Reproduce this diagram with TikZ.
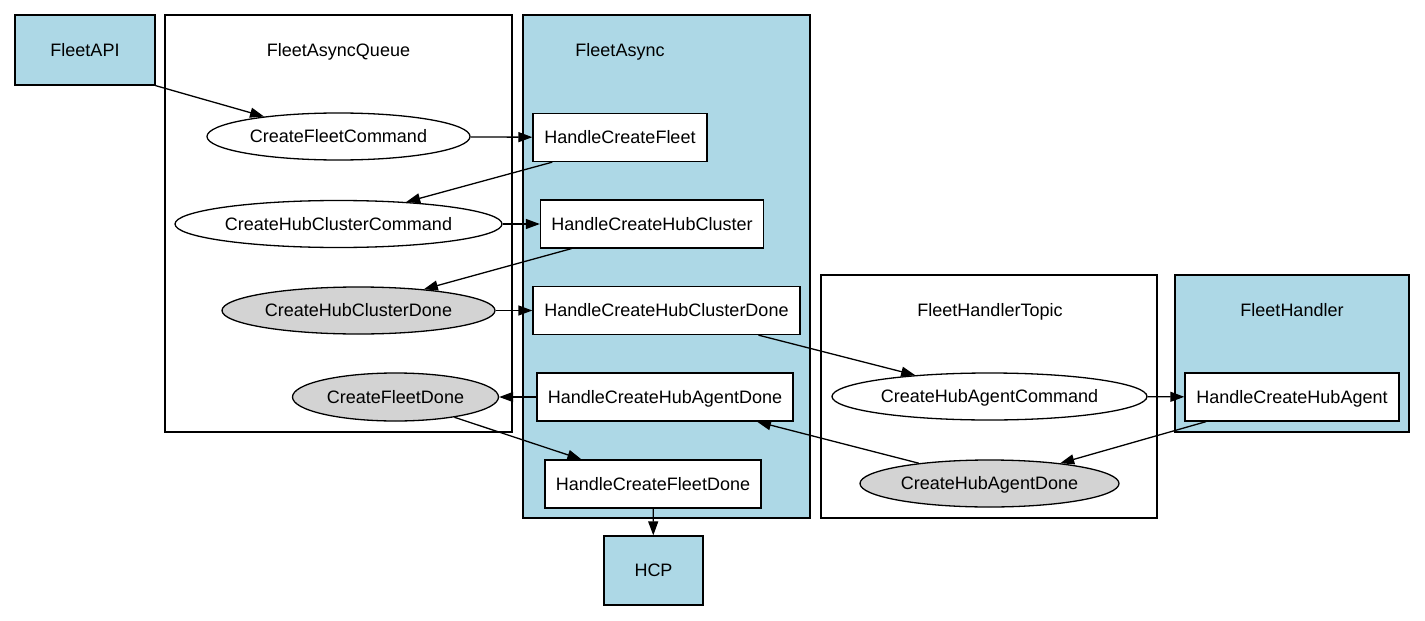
\documentclass[tikz,border=0pt]{standalone}
\usepackage{fontspec}
\setmainfont{Liberation Sans}
\usetikzlibrary{arrows.meta,shapes.geometric}
\definecolor{lblue}{HTML}{ADD8E6}
\definecolor{lgray}{HTML}{D3D3D3}
\begin{document}
\begin{tikzpicture}[x=1pt,y=-1pt,line width=1.3pt,
  font=\fontsize{18}{21.6}\selectfont,
  base/.style={draw,text height=12.9pt,text depth=0pt,inner sep=0pt},
  box/.style={base,rectangle,fill=white,minimum height=48},
  ell/.style={base,ellipse,fill=white,minimum height=47},
  done/.style={ell,fill=lgray},
  ext/.style={base,rectangle,fill=lblue},
  cluster/.style={draw,rectangle,inner sep=0pt},
  clab/.style={inner sep=0pt,text height=12.9pt,text depth=0pt},
  arr/.style={-{Triangle[length=14pt,width=10pt]}}]
\useasboundingbox (0,0) rectangle (1425,621);
\fill[white] (0,0) rectangle (1425,621);
% clusters
\node[cluster,minimum width=347,minimum height=417] (queue) at (338.5,223.5) {};
\node[clab] (queuelab) at (338.5,50) {FleetAsyncQueue};
\node[cluster,fill=lblue,minimum width=287,minimum height=503] (async) at (666.5,266.5) {};
\node[clab] (asynclab) at (620,50) {FleetAsync};
\node[cluster,minimum width=336,minimum height=243] (topic) at (989,396.5) {};
\node[clab] (topiclab) at (990,310) {FleetHandlerTopic};
\node[cluster,fill=lblue,minimum width=234,minimum height=157] (handler) at (1292,353.5) {};
\node[clab] (handlerlab) at (1292,310) {FleetHandler};
% nodes
\node[ext,minimum width=140,minimum height=70] (api) at (85,50) {FleetAPI};
\node[ext,minimum width=99,minimum height=69] (hcp) at (653.5,570.5) {HCP};
\node[ell,minimum width=263] (cfc) at (338.5,136.5) {CreateFleetCommand};
\node[ell,minimum width=327] (chcc) at (338.5,224) {CreateHubClusterCommand};
\node[done,minimum width=273] (chcd) at (358.5,310.5) {CreateHubClusterDone};
\node[done,minimum width=206,minimum height=48] (cfd) at (395.5,397) {CreateFleetDone};
\node[box,minimum width=174] (hcf) at (620,137.5) {HandleCreateFleet};
\node[box,minimum width=223] (hchc) at (652,224) {HandleCreateHubCluster};
\node[box,minimum width=267] (hchcd) at (666.5,310.5) {HandleCreateHubClusterDone};
\node[box,minimum width=256] (hchad) at (665,397) {HandleCreateHubAgentDone};
\node[box,minimum width=216] (hcfd) at (653,484) {HandleCreateFleetDone};
\node[ell,minimum width=315] (chac) at (989.5,396.5) {CreateHubAgentCommand};
\node[box,minimum width=214] (hcha) at (1292,397) {HandleCreateHubAgent};
\node[done,minimum width=259] (chad) at (989.5,483.5) {CreateHubAgentDone};
% edges
\draw[arr] (api.south east) -- (cfc.165);
\draw[arr] (cfc) -- (hcf);
\draw[arr] (hcf.200) -- (chcc.18);
\draw[arr] (chcc) -- (hchc);
\draw[arr] (hchc.197) -- (chcd.18);
\draw[arr] (chcd) -- (hchcd);
\draw[arr] (hchcd.345) -- (chac.164);
\draw[arr] (hchad) -- (cfd);
\draw[arr] (cfd.341) -- (hcfd.161);
\draw[arr] (hcfd) -- (hcp);
\draw[arr] (chac) -- (hcha);
\draw[arr] (hcha.196) -- (chad.16);
\draw[arr] (chad.164) -- (hchad.345.5);
\end{tikzpicture}
\end{document}
